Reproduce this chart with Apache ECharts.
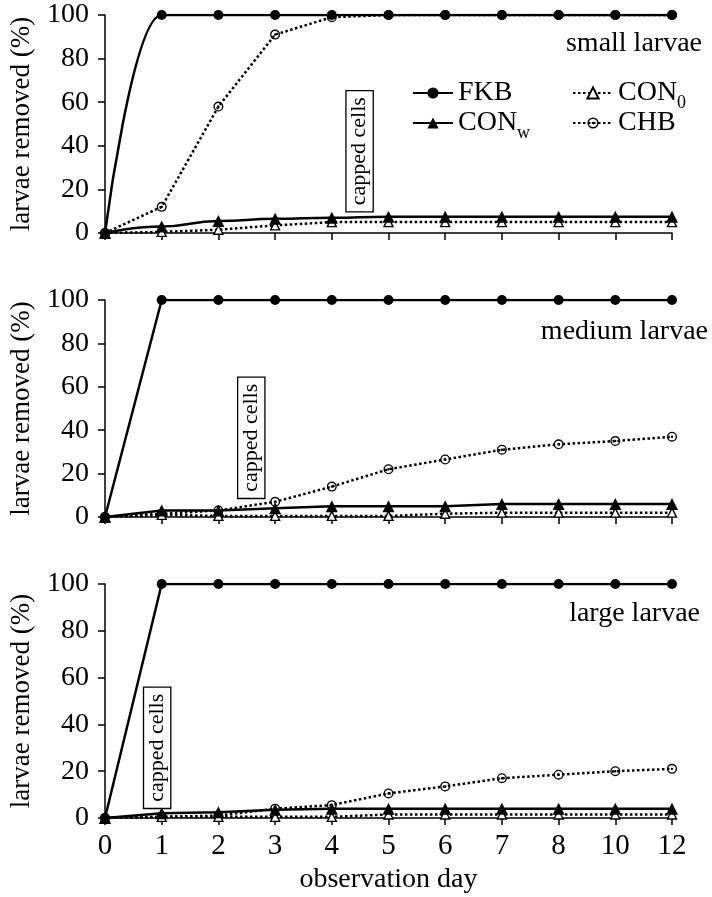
<!DOCTYPE html>
<html>
<head>
<meta charset="utf-8">
<script src="https://cdn.jsdelivr.net/npm/echarts@6/dist/echarts.min.js"></script>
<style>
  html, body { margin: 0; padding: 0; background: #fff; }
  #chart { width: 712px; height: 897px; }
</style>
</head>
<body>
<div id="chart"></div>
<script>
// observation days (evenly spaced categories)
const days = ['0', '1', '2', '3', '4', '5', '6', '7', '8', '10', '12'];

// small larvae
const fkbSmall = [0, 100, 100, 100, 100, 100, 100, 100, 100, 100, 100];
const conwSmall = [0, 3, 5.5, 6.5, 7, 7.5, 7.5, 7.5, 7.5, 7.5, 7.5];
const con0Small = [0, 0.5, 1.5, 3.5, 5, 5, 5, 5, 5, 5, 5];
const chbSmall = [0, 12, 58, 91, 99, 100, 100, 100, 100, 100, 100];

// medium larvae
const fkbMedium = [0, 100, 100, 100, 100, 100, 100, 100, 100, 100, 100];
const conwMedium = [0, 3, 3, 4, 5, 5, 5, 6, 6, 6, 6];
const con0Medium = [0, 1, 0.5, 0.5, 0.5, 0.5, 1.5, 2, 2, 2, 2];
const chbMedium = [0, 1.5, 3, 7, 14, 22, 26.5, 31, 33.5, 35, 37];

// large larvae
const fkbLarge = [0, 100, 100, 100, 100, 100, 100, 100, 100, 100, 100];
const conwLarge = [0, 2, 2.5, 3.5, 4, 4, 4, 4, 4, 4, 4];
const con0Large = [0, 0.5, 0.5, 0.5, 0.5, 1.5, 1.5, 1.5, 1.5, 1.5, 1.5];
const chbLarge = [0, 0.5, 1, 4, 5.5, 10.5, 13.5, 17, 18.5, 20, 21];

const panelLabels = ['small larvae', 'medium larvae', 'large larvae'];

// "capped cells" boxes: category position and value of the box centre
const cappedDay = [4.49, 2.58, 0.92];
const cappedVal = [37.5, 36.5, 30];

const FONT = 'Liberation Serif, Times New Roman, serif';
const INK = '#000';
const DOTS = [2.5, 2.5];

const chart = echarts.init(document.getElementById('chart'));

// ring with a dot in the middle
const dotCircle =
  'path://M10,0A10,10,0,1,1,-10,0A10,10,0,1,1,10,0Z' +
  'M7.3,0A7.3,7.3,0,1,0,-7.3,0A7.3,7.3,0,1,0,7.3,0Z' +
  'M2.4,0A2.4,2.4,0,1,1,-2.4,0A2.4,2.4,0,1,1,2.4,0Z';

const panels = [
  { fkb: fkbSmall, conw: conwSmall, con0: con0Small, chb: chbSmall, smooth: true },
  { fkb: fkbMedium, conw: conwMedium, con0: con0Medium, chb: chbMedium, smooth: false },
  { fkb: fkbLarge, conw: conwLarge, con0: con0Large, chb: chbLarge, smooth: false },
];

const grids = [
  { left: 102, right: 40, top: 15, height: 218 },
  { left: 102, right: 40, top: 300, height: 217 },
  { left: 102, right: 40, top: 584, height: 234 },
];

const xAxes = grids.map((g, i) => ({
  type: 'category',
  gridIndex: i,
  data: days,
  boundaryGap: false,
  axisLine: { lineStyle: { color: INK, width: 1.5 } },
  axisTick: { show: true, length: 7, lineStyle: { color: INK, width: 1.5 } },
  axisLabel: {
    show: i === 2,
    color: INK,
    fontFamily: FONT,
    fontSize: 29,
    margin: 14,
  },
  splitLine: { show: false },
  name: i === 2 ? 'observation day' : '',
  nameLocation: 'middle',
  nameGap: 48,
  nameTextStyle: { color: INK, fontFamily: FONT, fontSize: 28 },
}));

const yAxes = grids.map((g, i) => ({
  type: 'value',
  gridIndex: i,
  min: 0,
  max: 100,
  interval: 20,
  axisLine: { show: true, lineStyle: { color: INK, width: 1.5 } },
  axisTick: { show: true, length: 7, lineStyle: { color: INK, width: 1.5 } },
  axisLabel: { color: INK, fontFamily: FONT, fontSize: 28, margin: 16 },
  splitLine: { show: false },
  name: 'larvae removed (%)',
  nameLocation: 'middle',
  nameRotate: 90,
  nameGap: 70,
  nameTextStyle: { color: INK, fontFamily: FONT, fontSize: 27 },
}));

const series = [];
panels.forEach((p, i) => {
  series.push({
    name: 'CHB',
    type: 'line',
    xAxisIndex: i,
    yAxisIndex: i,
    data: p.chb,
    symbol: dotCircle,
    symbolSize: 10,
    lineStyle: { color: INK, width: 2.5, type: DOTS },
    itemStyle: { color: INK },
    z: 2,
  });
  series.push({
    name: 'CON0',
    type: 'line',
    xAxisIndex: i,
    yAxisIndex: i,
    data: p.con0,
    symbol: 'triangle',
    symbolSize: 9,
    lineStyle: { color: INK, width: 2.5, type: DOTS },
    itemStyle: { color: '#fff', borderColor: INK, borderWidth: 1.4 },
    z: 3,
  });
  series.push({
    name: 'CONw',
    type: 'line',
    xAxisIndex: i,
    yAxisIndex: i,
    data: p.conw,
    symbol: 'triangle',
    symbolSize: 12,
    smooth: p.smooth ? 0.5 : false,
    smoothMonotone: 'x',
    lineStyle: { color: INK, width: 2.5 },
    itemStyle: { color: INK },
    z: 4,
  });
  series.push({
    name: 'FKB',
    type: 'line',
    xAxisIndex: i,
    yAxisIndex: i,
    data: p.fkb,
    symbol: 'circle',
    symbolSize: 10,
    smooth: p.smooth ? 0.5 : false,
    smoothMonotone: 'x',
    lineStyle: { color: INK, width: 2.5 },
    itemStyle: { color: INK },
    z: 5,
  });
});

const legendText = {
  color: INK,
  fontFamily: FONT,
  fontSize: 28,
  lineHeight: 38,
  rich: {
    sub: { fontFamily: FONT, fontSize: 18, lineHeight: 18, padding: [20, 0, 0, 0], color: INK },
  },
};
const legendName = (name) => {
  if (name === 'CONw') return 'CON{sub|w}';
  if (name === 'CON0') return 'CON{sub|0}';
  return name;
};

const option = {
  animation: false,
  backgroundColor: '#fff',
  title: panelLabels.map((t, i) => ({
    text: t,
    right: [10, 4, 12][i],
    top: [30, 318, 600][i],
    padding: 0,
    textStyle: { color: INK, fontFamily: FONT, fontSize: 28, fontWeight: 'normal' },
  })),
  legend: [
    {
      data: ['FKB', 'CONw'],
      orient: 'vertical',
      left: 412,
      top: 74,
      padding: 0,
      itemWidth: 40,
      itemHeight: 14,
      itemGap: -8,
      formatter: legendName,
      textStyle: legendText,
      selectedMode: false,
    },
    {
      data: ['CON0', 'CHB'],
      orient: 'vertical',
      left: 572,
      top: 74,
      padding: 0,
      itemWidth: 40,
      itemHeight: 14,
      itemGap: -8,
      formatter: legendName,
      textStyle: legendText,
      selectedMode: false,
    },
  ],
  grid: grids,
  xAxis: xAxes,
  yAxis: yAxes,
  series: series,
};

chart.setOption(option);

// place the "capped cells" boxes in data coordinates
const boxes = cappedDay.map((d, i) => {
  const lo = Math.floor(d);
  const frac = d - lo;
  const p0 = chart.convertToPixel({ gridIndex: i }, [lo, cappedVal[i]]);
  const p1 = chart.convertToPixel({ gridIndex: i }, [lo + 1, cappedVal[i]]);
  return {
    type: 'text',
    x: p0[0] + frac * (p1[0] - p0[0]),
    y: p0[1],
    rotation: Math.PI / 2,
    z: 100,
    style: {
      text: 'capped cells',
      x: 0,
      y: 0,
      align: 'center',
      verticalAlign: 'middle',
      font: '22px ' + FONT,
      fill: INK,
      backgroundColor: '#fff',
      borderColor: INK,
      borderWidth: 1.3,
      padding: [3, 6, 1, 6],
    },
  };
});
chart.setOption({ graphic: boxes });

window.addEventListener('resize', () => chart.resize());
</script>
</body>
</html>
